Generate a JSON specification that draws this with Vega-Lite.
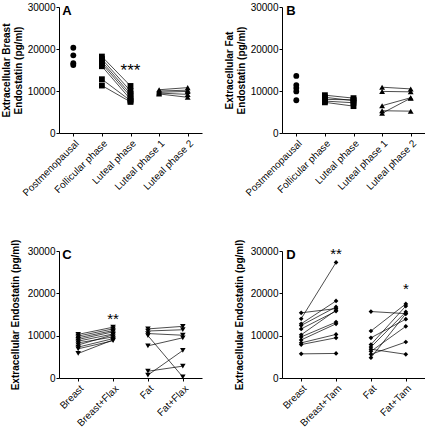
{
  "$schema": "https://vega.github.io/schema/vega-lite/v6.json",
  "padding": {"left": 1, "top": 2, "right": 0, "bottom": 0},
  "background": "white",
  "columns": 2,
  "spacing": {"row": 118, "column": 80},
  "bounds": "flush",
  "datasets": {
    "a": [
      {"c": "Postmenopausal", "v": 20300, "id": "p1"},
      {"c": "Postmenopausal", "v": 18500, "id": "p2"},
      {"c": "Postmenopausal", "v": 16600, "id": "p3"},
      {"c": "Postmenopausal", "v": 16200, "id": "p4"},
      {"c": "Follicular phase", "v": 18200, "id": "a1"}, {"c": "Luteal phase", "v": 11200, "id": "a1"},
      {"c": "Follicular phase", "v": 17600, "id": "a2"}, {"c": "Luteal phase", "v": 10000, "id": "a2"},
      {"c": "Follicular phase", "v": 17000, "id": "a3"}, {"c": "Luteal phase", "v": 9300, "id": "a3"},
      {"c": "Follicular phase", "v": 16500, "id": "a4"}, {"c": "Luteal phase", "v": 8700, "id": "a4"},
      {"c": "Follicular phase", "v": 15900, "id": "a5"}, {"c": "Luteal phase", "v": 8000, "id": "a5"},
      {"c": "Follicular phase", "v": 12800, "id": "a6"}, {"c": "Luteal phase", "v": 7700, "id": "a6"},
      {"c": "Follicular phase", "v": 11300, "id": "a7"}, {"c": "Luteal phase", "v": 7400, "id": "a7"},
      {"c": "Luteal phase 1", "v": 10300, "id": "b1"}, {"c": "Luteal phase 2", "v": 10800, "id": "b1"},
      {"c": "Luteal phase 1", "v": 10000, "id": "b2"}, {"c": "Luteal phase 2", "v": 10200, "id": "b2"},
      {"c": "Luteal phase 1", "v": 9700, "id": "b3"}, {"c": "Luteal phase 2", "v": 9900, "id": "b3"},
      {"c": "Luteal phase 1", "v": 9500, "id": "b4"}, {"c": "Luteal phase 2", "v": 9200, "id": "b4"},
      {"c": "Luteal phase 1", "v": 9300, "id": "b5"}, {"c": "Luteal phase 2", "v": 8500, "id": "b5"}
    ],
    "b": [
      {"c": "Postmenopausal", "v": 13600, "id": "p1"},
      {"c": "Postmenopausal", "v": 11400, "id": "p2"},
      {"c": "Postmenopausal", "v": 10700, "id": "p3"},
      {"c": "Postmenopausal", "v": 9900, "id": "p4"},
      {"c": "Postmenopausal", "v": 7800, "id": "p5"},
      {"c": "Follicular phase", "v": 9000, "id": "c1"}, {"c": "Luteal phase", "v": 8300, "id": "c1"},
      {"c": "Follicular phase", "v": 8500, "id": "c2"}, {"c": "Luteal phase", "v": 7700, "id": "c2"},
      {"c": "Follicular phase", "v": 8000, "id": "c3"}, {"c": "Luteal phase", "v": 7900, "id": "c3"},
      {"c": "Follicular phase", "v": 7600, "id": "c4"}, {"c": "Luteal phase", "v": 7200, "id": "c4"},
      {"c": "Follicular phase", "v": 7300, "id": "c5"}, {"c": "Luteal phase", "v": 6400, "id": "c5"},
      {"c": "Luteal phase 1", "v": 10900, "id": "d1"}, {"c": "Luteal phase 2", "v": 10500, "id": "d1"},
      {"c": "Luteal phase 1", "v": 9900, "id": "d2"}, {"c": "Luteal phase 2", "v": 9800, "id": "d2"},
      {"c": "Luteal phase 1", "v": 6500, "id": "d3"}, {"c": "Luteal phase 2", "v": 8400, "id": "d3"},
      {"c": "Luteal phase 1", "v": 4700, "id": "d4"}, {"c": "Luteal phase 2", "v": 8300, "id": "d4"},
      {"c": "Luteal phase 1", "v": 5300, "id": "d5"}, {"c": "Luteal phase 2", "v": 5200, "id": "d5"}
    ],
    "c": [
      {"c": "Breast", "v": 10300, "id": "e1"}, {"c": "Breast+Flax", "v": 12000, "id": "e1"},
      {"c": "Breast", "v": 9900, "id": "e2"}, {"c": "Breast+Flax", "v": 11600, "id": "e2"},
      {"c": "Breast", "v": 9500, "id": "e3"}, {"c": "Breast+Flax", "v": 11200, "id": "e3"},
      {"c": "Breast", "v": 9100, "id": "e4"}, {"c": "Breast+Flax", "v": 10900, "id": "e4"},
      {"c": "Breast", "v": 8700, "id": "e5"}, {"c": "Breast+Flax", "v": 10400, "id": "e5"},
      {"c": "Breast", "v": 8300, "id": "e6"}, {"c": "Breast+Flax", "v": 9700, "id": "e6"},
      {"c": "Breast", "v": 7800, "id": "e7"}, {"c": "Breast+Flax", "v": 10200, "id": "e7"},
      {"c": "Breast", "v": 7300, "id": "e8"}, {"c": "Breast+Flax", "v": 9300, "id": "e8"},
      {"c": "Breast", "v": 6900, "id": "e9"}, {"c": "Breast+Flax", "v": 8800, "id": "e9"},
      {"c": "Breast", "v": 5800, "id": "e10"}, {"c": "Breast+Flax", "v": 9000, "id": "e10"},
      {"c": "Fat", "v": 11600, "id": "f1"}, {"c": "Fat+Flax", "v": 12200, "id": "f1"},
      {"c": "Fat", "v": 11100, "id": "f2"}, {"c": "Fat+Flax", "v": 11400, "id": "f2"},
      {"c": "Fat", "v": 10500, "id": "f3"}, {"c": "Fat+Flax", "v": 10100, "id": "f3"},
      {"c": "Fat", "v": 10000, "id": "f4"}, {"c": "Fat+Flax", "v": 250, "id": "f4"},
      {"c": "Fat", "v": 7600, "id": "f5"}, {"c": "Fat+Flax", "v": 9500, "id": "f5"},
      {"c": "Fat", "v": 1600, "id": "f6"}, {"c": "Fat+Flax", "v": 2800, "id": "f6"},
      {"c": "Fat", "v": 700, "id": "f7"}, {"c": "Fat+Flax", "v": 6500, "id": "f7"}
    ],
    "d": [
      {"c": "Breast", "v": 14000, "id": "g1"}, {"c": "Breast+Tam", "v": 27300, "id": "g1"},
      {"c": "Breast", "v": 15400, "id": "g2"}, {"c": "Breast+Tam", "v": 16400, "id": "g2"},
      {"c": "Breast", "v": 12800, "id": "g3"}, {"c": "Breast+Tam", "v": 18200, "id": "g3"},
      {"c": "Breast", "v": 12400, "id": "g4"}, {"c": "Breast+Tam", "v": 16800, "id": "g4"},
      {"c": "Breast", "v": 11600, "id": "g5"}, {"c": "Breast+Tam", "v": 15800, "id": "g5"},
      {"c": "Breast", "v": 10200, "id": "g6"}, {"c": "Breast+Tam", "v": 16000, "id": "g6"},
      {"c": "Breast", "v": 9700, "id": "g7"}, {"c": "Breast+Tam", "v": 13200, "id": "g7"},
      {"c": "Breast", "v": 9000, "id": "g8"}, {"c": "Breast+Tam", "v": 12800, "id": "g8"},
      {"c": "Breast", "v": 8300, "id": "g9"}, {"c": "Breast+Tam", "v": 10300, "id": "g9"},
      {"c": "Breast", "v": 7900, "id": "g10"}, {"c": "Breast+Tam", "v": 9500, "id": "g10"},
      {"c": "Breast", "v": 5700, "id": "g11"}, {"c": "Breast+Tam", "v": 5800, "id": "g11"},
      {"c": "Fat", "v": 15700, "id": "h1"}, {"c": "Fat+Tam", "v": 15200, "id": "h1"},
      {"c": "Fat", "v": 11100, "id": "h2"}, {"c": "Fat+Tam", "v": 17500, "id": "h2"},
      {"c": "Fat", "v": 9500, "id": "h3"}, {"c": "Fat+Tam", "v": 13900, "id": "h3"},
      {"c": "Fat", "v": 7900, "id": "h4"}, {"c": "Fat+Tam", "v": 17000, "id": "h4"},
      {"c": "Fat", "v": 7300, "id": "h5"}, {"c": "Fat+Tam", "v": 15600, "id": "h5"},
      {"c": "Fat", "v": 6800, "id": "h6"}, {"c": "Fat+Tam", "v": 5600, "id": "h6"},
      {"c": "Fat", "v": 6300, "id": "h7"}, {"c": "Fat+Tam", "v": 12200, "id": "h7"},
      {"c": "Fat", "v": 5600, "id": "h8"}, {"c": "Fat+Tam", "v": 8500, "id": "h8"},
      {"c": "Fat", "v": 4800, "id": "h9"}, {"c": "Fat+Tam", "v": 15200, "id": "h9"}
    ]
  },
  "concat": [
    {
      "width": 143, "height": 126,
      "data": {"name": "a"},
      "encoding": {
        "x": {"field": "c", "type": "nominal", "title": null, "sort": ["Postmenopausal", "Follicular phase", "Luteal phase", "Luteal phase 1", "Luteal phase 2"], "scale": {"type": "point", "padding": 0.5}},
        "y": {"field": "v", "type": "quantitative", "scale": {"domain": [0, 30000], "nice": false}, "axis": {"values": [0, 10000, 20000, 30000], "format": "d", "titlePadding": 4}, "title": ["Extracellular Breast", "Endostatin (pg/ml)"]}
      },
      "layer": [
        {"mark": {"type": "line", "color": "black", "strokeWidth": 0.7}, "encoding": {"detail": {"field": "id"}}},
        {"mark": {"type": "point", "filled": true, "opacity": 1, "color": "black", "size": 34},
         "encoding": {"shape": {"field": "c", "type": "nominal", "legend": null, "scale": {"domain": ["Postmenopausal", "Follicular phase", "Luteal phase", "Luteal phase 1", "Luteal phase 2"], "range": ["circle", "square", "square", "triangle-up", "triangle-up"]}}}},
        {"data": {"values": [{"c": "Luteal phase", "v": 15700, "t": "***"}]},
         "mark": {"type": "text", "fontSize": 17, "baseline": "alphabetic", "dy": 9, "color": "black"},
         "encoding": {"text": {"field": "t"}}},
        {"data": {"values": [{"c": "Postmenopausal", "v": 30000, "t": "A"}]},
         "mark": {"type": "text", "fontSize": 13, "fontWeight": "bold", "align": "left", "baseline": "top", "dx": -11, "dy": -2, "color": "black"},
         "encoding": {"text": {"field": "t"}}}
      ]
    },
    {
      "width": 143, "height": 126,
      "data": {"name": "b"},
      "encoding": {
        "x": {"field": "c", "type": "nominal", "title": null, "sort": ["Postmenopausal", "Follicular phase", "Luteal phase", "Luteal phase 1", "Luteal phase 2"], "scale": {"type": "point", "padding": 0.5}},
        "y": {"field": "v", "type": "quantitative", "scale": {"domain": [0, 30000], "nice": false}, "axis": {"values": [0, 10000, 20000, 30000], "format": "d", "titlePadding": 4}, "title": ["Extracellular Fat", "Endostatin (pg/ml)"]}
      },
      "layer": [
        {"mark": {"type": "line", "color": "black", "strokeWidth": 0.7}, "encoding": {"detail": {"field": "id"}}},
        {"mark": {"type": "point", "filled": true, "opacity": 1, "color": "black", "size": 34},
         "encoding": {"shape": {"field": "c", "type": "nominal", "legend": null, "scale": {"domain": ["Postmenopausal", "Follicular phase", "Luteal phase", "Luteal phase 1", "Luteal phase 2"], "range": ["circle", "square", "square", "triangle-up", "triangle-up"]}}}},
        {"data": {"values": [{"c": "Postmenopausal", "v": 30000, "t": "B"}]},
         "mark": {"type": "text", "fontSize": 13, "fontWeight": "bold", "align": "left", "baseline": "top", "dx": -10, "dy": -2, "color": "black"},
         "encoding": {"text": {"field": "t"}}}
      ]
    },
    {
      "width": 143, "height": 127,
      "data": {"name": "c"},
      "encoding": {
        "x": {"field": "c", "type": "nominal", "title": null, "sort": ["Breast", "Breast+Flax", "Fat", "Fat+Flax"], "scale": {"type": "point", "padding": 0.55}},
        "y": {"field": "v", "type": "quantitative", "scale": {"domain": [0, 30000], "nice": false}, "axis": {"values": [0, 10000, 20000, 30000], "format": "d", "titlePadding": 7}, "title": "Extracellular Endostatin (pg/ml)"}
      },
      "layer": [
        {"mark": {"type": "line", "color": "black", "strokeWidth": 0.7}, "encoding": {"detail": {"field": "id"}}},
        {"mark": {"type": "point", "filled": true, "opacity": 1, "color": "black", "size": 30, "shape": "triangle-down"}},
        {"data": {"values": [{"c": "Breast+Flax", "v": 14600, "t": "**"}]},
         "mark": {"type": "text", "fontSize": 15, "baseline": "alphabetic", "dy": 8, "color": "black"},
         "encoding": {"text": {"field": "t"}}},
        {"data": {"values": [{"c": "Breast", "v": 30000, "t": "C"}]},
         "mark": {"type": "text", "fontSize": 13, "fontWeight": "bold", "align": "left", "baseline": "top", "dx": -16, "dy": -2, "color": "black"},
         "encoding": {"text": {"field": "t"}}}
      ]
    },
    {
      "width": 143, "height": 127,
      "data": {"name": "d"},
      "encoding": {
        "x": {"field": "c", "type": "nominal", "title": null, "sort": ["Breast", "Breast+Tam", "Fat", "Fat+Tam"], "scale": {"type": "point", "padding": 0.55}},
        "y": {"field": "v", "type": "quantitative", "scale": {"domain": [0, 30000], "nice": false}, "axis": {"values": [0, 10000, 20000, 30000], "format": "d", "titlePadding": 6}, "title": "Extracellular Endostatin (pg/ml)"}
      },
      "layer": [
        {"mark": {"type": "line", "color": "black", "strokeWidth": 0.7}, "encoding": {"detail": {"field": "id"}}},
        {"mark": {"type": "point", "filled": true, "opacity": 1, "color": "black", "size": 22, "shape": "diamond"}},
        {"data": {"values": [{"c": "Breast+Tam", "v": 30000, "t": "**"}, {"c": "Fat+Tam", "v": 21700, "t": "*"}]},
         "mark": {"type": "text", "fontSize": 15, "baseline": "alphabetic", "dy": 8, "color": "black"},
         "encoding": {"text": {"field": "t"}}},
        {"data": {"values": [{"c": "Breast", "v": 30000, "t": "D"}]},
         "mark": {"type": "text", "fontSize": 13, "fontWeight": "bold", "align": "left", "baseline": "top", "dx": -15, "dy": -2, "color": "black"},
         "encoding": {"text": {"field": "t"}}}
      ]
    }
  ],
  "config": {
    "font": "Liberation Sans",
    "view": {"stroke": null},
    "axis": {"grid": false, "domainColor": "black", "tickColor": "black", "labelColor": "black", "titleColor": "black", "tickSize": 3, "labelPadding": 1, "labelFontSize": 10, "titleFontSize": 10, "titleFontWeight": "bold", "titleLineHeight": 12, "domainWidth": 1, "tickWidth": 1},
    "axisX": {"labelAngle": -45, "labelFontSize": 10, "labelPadding": 2, "labelOpacity": 0.99}
  }
}
